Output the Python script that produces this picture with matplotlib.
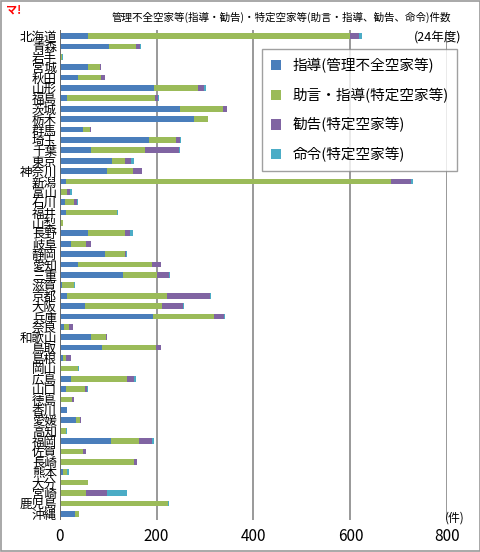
import numpy as np
import matplotlib.pyplot as plt
from matplotlib.patches import Rectangle

plt.rcParams['font.family'] = ['Noto Sans CJK JP', 'DejaVu Sans']

# --- data (件, 24年度) ---
prefs = ["北海道", "青森", "岩手", "宮城", "秋田", "山形", "福島", "茨城", "栃木", "群馬",
         "埼玉", "千葉", "東京", "神奈川", "新潟", "富山", "石川", "福井", "山梨", "長野",
         "岐阜", "静岡", "愛知", "三重", "滋賀", "京都", "大阪", "兵庫", "奈良", "和歌山",
         "鳥取", "島根", "岡山", "広島", "山口", "徳島", "香川", "愛媛", "高知", "福岡",
         "佐賀", "長崎", "熊本", "大分", "宮崎", "鹿児島", "沖縄"]
shido = [58, 102, 0, 58, 38, 194, 16, 249, 278, 49,
         185, 64, 108, 98, 13, 2, 12, 13, 0, 58,
         24, 94, 37, 131, 5, 15, 53, 193, 9, 65,
         87, 7, 0, 24, 14, 0, 15, 33, 0, 105,
         3, 0, 7, 0, 0, 0, 32]
jogen = [542, 55, 5, 26, 48, 92, 181, 88, 28, 13,
         55, 113, 27, 53, 671, 14, 18, 105, 6, 77,
         31, 41, 154, 70, 25, 207, 159, 126, 10, 30,
         111, 7, 38, 115, 39, 25, 1, 9, 14, 59,
         46, 153, 9, 58, 54, 223, 8]
kankoku = [18, 9, 0, 1, 8, 12, 6, 8, 0, 2,
           9, 70, 13, 19, 42, 5, 6, 0, 0, 11,
           9, 2, 19, 25, 0, 89, 43, 21, 8, 3,
           12, 9, 0, 15, 4, 5, 0, 2, 0, 27,
           6, 6, 0, 0, 44, 0, 0]
meirei = [5, 1, 2, 0, 0, 3, 1, 0, 0, 0,
          1, 1, 6, 0, 4, 5, 1, 2, 0, 5,
          0, 2, 0, 1, 1, 2, 1, 1, 1, 0,
          0, 0, 2, 4, 1, 0, 0, 0, 1, 4,
          0, 0, 3, 0, 40, 2, 0]

series = [
    ("指導(管理不全空家等)", shido, '#4a7ebb'),
    ("助言・指導(特定空家等)", jogen, '#9bbb59'),
    ("勧告(特定空家等)", kankoku, '#8064a2'),
    ("命令(特定空家等)", meirei, '#4bacc6'),
]

fig = plt.figure(figsize=(4.81, 5.52), dpi=100)
ax = fig.add_axes([0.124, 0.058, 0.806, 0.888])

y = np.arange(len(prefs))
left = np.zeros(len(prefs))
for name, vals, col in series:
    vals = np.array(vals, dtype=float)
    ax.barh(y, vals, left=left, height=0.55, color=col, label=name, zorder=3)
    left += vals

ax.set_ylim(len(prefs) - 0.4, -0.6)
ax.set_xlim(0, 800)
ax.set_xticks([0, 200, 400, 600, 800])
ax.tick_params(axis='x', length=0, labelsize=11, pad=6)
ax.tick_params(axis='y', length=0, labelsize=9, pad=2)
ax.set_yticks(y)
ax.set_yticklabels(prefs)
ax.grid(axis='x', color='#888888', linewidth=1.2, zorder=0)
for s in ax.spines.values():
    s.set_visible(False)
ax.axvline(0, color='#666666', linewidth=1.2, zorder=4)

fig.text(0.585, 0.968, "管理不全空家等(指導・勧告)・特定空家等(助言・指導、勧告、命令)件数",
         fontsize=7.6, ha='center', va='center')
fig.text(0.96, 0.931, "(24年度)", fontsize=9, ha='right', va='center')
fig.text(0.012, 0.982, "マ!", fontsize=8, color='red', fontweight='bold',
         style='italic', va='center')
fig.text(0.945, 0.062, "(件)", fontsize=8.5, ha='center', va='center')

leg = ax.legend(loc='upper right', bbox_to_anchor=(1.045, 0.975), fontsize=10.5,
                handlelength=0.7, handleheight=0.7, labelspacing=1.0,
                frameon=True, fancybox=False, edgecolor='#888888', borderpad=0.6)
leg.get_frame().set_linewidth(1.0)
leg.set_zorder(10)

fig.patches.append(Rectangle((0.002, 0.002), 0.996, 0.996, transform=fig.transFigure,
                             fill=False, edgecolor='#999999', linewidth=1.2))

fig.savefig('out.png', dpi=100)
